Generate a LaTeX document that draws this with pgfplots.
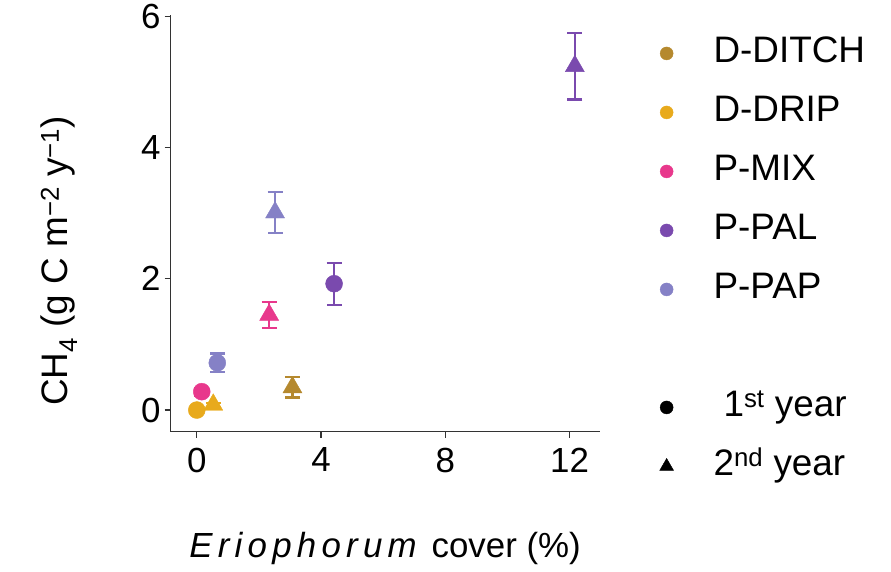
\documentclass[border=0pt]{standalone}
\usepackage{fontspec}
\setmainfont{Liberation Sans}
\usepackage{pgfplots}
\pgfplotsset{compat=1.18}
\definecolor{cditch}{HTML}{B5892E}
\definecolor{cdrip}{HTML}{E8AA1C}
\definecolor{cmix}{HTML}{E8388C}
\definecolor{cpal}{HTML}{7A4AAE}
\definecolor{cpap}{HTML}{8581C6}
\definecolor{axc}{HTML}{333333}
\pgfplotsset{
  eb/.style={error bars/.cd, y dir=both, y explicit,
    error bar style={line width=2.4bp},
    error mark options={rotate=90, mark size=7.5bp, line width=2.4bp}},
}
\begin{document}
\begin{tikzpicture}
\useasboundingbox (-170.7bp,-140.3bp) rectangle (720.3bp,431.7bp);
\begin{axis}[
  scale only axis,
  width=429.3bp, height=416.7bp,
  xmin=-0.84, xmax=12.98,
  ymin=-0.33, ymax=6.02,
  axis x line*=bottom, axis y line*=left,
  axis line style={axc, line width=1.3bp, -},
  tick style={axc, line width=1.3bp},
  tick align=outside,
  major tick length=6bp,
  xtick={0,4,8,12}, ytick={0,2,4,6},
  /pgf/number format/assume math mode=true,
  ticklabel style={font=\fontsize{35}{40}\selectfont, text=black},
  xticklabel style={inner sep=0pt, yshift=-10bp},
  yticklabel style={inner sep=0pt, xshift=-4bp},
  xlabel={\textit{\addfontfeature{LetterSpace=15}Eriophorum} cover (\%)},
  xlabel style={font=\fontsize{35}{40}\selectfont, at={(axis description cs:0.4995,-0.3007)}, anchor=base, inner sep=0pt},
  ylabel={CH\textsubscript{4} (g C m\textsuperscript{−2} y\textsuperscript{−1})},
  ylabel style={font=\fontsize{37}{42}\selectfont, at={(axis description cs:-0.2394,0.41)}, anchor=base, inner sep=0pt},
  clip=false,
  legend style={draw=none, fill=none, at={(axis description cs:1.128,0.955)}, anchor=north west,
    font=\fontsize{37}{42}\selectfont, row sep=24bp,
    nodes={text height=27bp, text depth=8bp, inner sep=0pt},
    /tikz/every odd column/.append style={column sep=40bp}},
  legend cell align=left,
]
% legend images
\addlegendimage{only marks, mark=*, mark size=6.5bp, color=cditch}
\addlegendentry{D-DITCH}
\addlegendimage{only marks, mark=*, mark size=6.5bp, color=cdrip}
\addlegendentry{D-DRIP}
\addlegendimage{only marks, mark=*, mark size=6.5bp, color=cmix}
\addlegendentry{P-MIX}
\addlegendimage{only marks, mark=*, mark size=6.5bp, color=cpal}
\addlegendentry{P-PAL}
\addlegendimage{only marks, mark=*, mark size=6.5bp, color=cpap}
\addlegendentry{P-PAP}
\addlegendimage{empty legend}
\addlegendentry{}
\addlegendimage{only marks, mark=*, mark size=6.5bp, color=black}
\addlegendentry{\hspace{10bp}1\textsuperscript{st} year}
\addlegendimage{only marks, mark=triangle*, mark size=8bp, color=black}
\addlegendentry{2\textsuperscript{nd} year}
% D-DITCH
\addplot[forget plot, only marks, mark=triangle*, mark size=11bp, color=cditch, eb]
  coordinates {(3.08,0.345) +- (0,0.155)};
% D-DRIP
\addplot[forget plot, only marks, mark=*, mark size=8.5bp, color=cdrip, eb]
  coordinates {(0.0,0.0) +- (0,0.03)};
\addplot[forget plot, only marks, mark=triangle*, mark size=11bp, color=cdrip, eb]
  coordinates {(0.53,0.08) +- (0,0.03)};
% P-MIX
\addplot[forget plot, only marks, mark=*, mark size=8.5bp, color=cmix, eb]
  coordinates {(0.16,0.28) +- (0,0.06)};
\addplot[forget plot, only marks, mark=triangle*, mark size=11bp, color=cmix, eb]
  coordinates {(2.33,1.45) +- (0,0.2)};
% P-PAL
\addplot[forget plot, only marks, mark=*, mark size=8.5bp, color=cpal, eb]
  coordinates {(4.42,1.925) +- (0,0.32)};
\addplot[forget plot, only marks, mark=triangle*, mark size=11bp, color=cpal, eb]
  coordinates {(12.17,5.24) +- (0,0.51)};
% P-PAP
\addplot[forget plot, only marks, mark=*, mark size=8.5bp, color=cpap, eb]
  coordinates {(0.66,0.72) +- (0,0.14)};
\addplot[forget plot, only marks, mark=triangle*, mark size=11bp, color=cpap, eb]
  coordinates {(2.52,3.01) +- (0,0.31)};
\end{axis}
\end{tikzpicture}
\end{document}
